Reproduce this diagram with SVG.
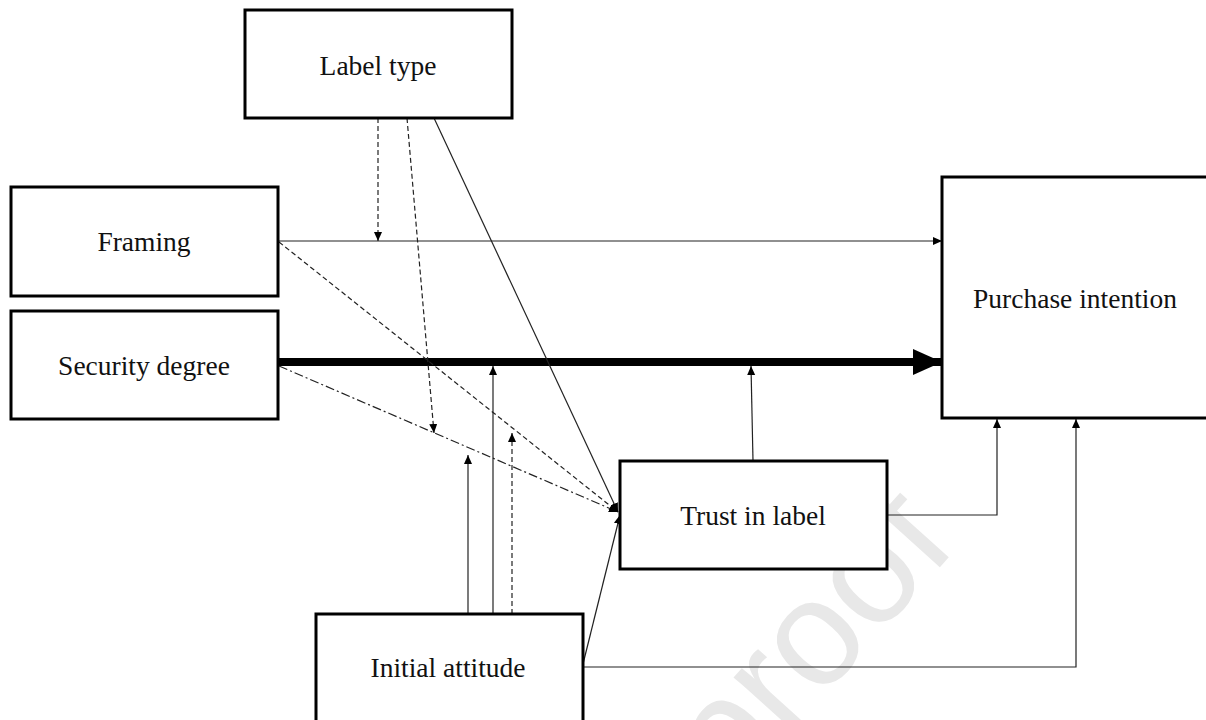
<svg xmlns="http://www.w3.org/2000/svg" width="1206" height="720" viewBox="0 0 1206 720">
<style>
.box{fill:#fff;stroke:#000;stroke-width:3}
.lbl{font-family:"Liberation Serif","Times New Roman",serif;font-size:27.5px;fill:#111;text-anchor:middle}
.c{fill:none;stroke:#222;stroke-width:1.2}
.dash{stroke-dasharray:5,3}
.dd{stroke-dasharray:9,3,2,3}
.wm{font-family:"Liberation Sans",Arial,sans-serif;font-size:150px;fill:#e8e8e8}
</style>
<defs>
<marker id="a" markerUnits="userSpaceOnUse" markerWidth="10" markerHeight="9" refX="9" refY="4" orient="auto">
<path d="M0,0 L9,4 L0,8 z" fill="#000"/>
</marker>
<marker id="big" markerUnits="userSpaceOnUse" markerWidth="30" markerHeight="28" refX="29" refY="13" orient="auto">
<path d="M0,0 L29,13 L0,26 z" fill="#000"/>
</marker>
</defs>
<rect width="1206" height="720" fill="#fff"/>
<text class="wm" transform="translate(730,800) rotate(-48)">proof</text>
<g id="connectors">
<line class="c" x1="278" y1="241" x2="942" y2="241" marker-end="url(#a)"/>
<line x1="278" y1="362" x2="942" y2="362" stroke="#000" stroke-width="8" marker-end="url(#big)"/>
<line class="c dash" x1="378" y1="118" x2="378" y2="241" marker-end="url(#a)"/>
<line class="c dash" x1="407" y1="118" x2="434" y2="433" marker-end="url(#a)"/>
<line class="c" x1="434" y1="118" x2="618" y2="512" marker-end="url(#a)"/>
<line class="c dash" x1="279" y1="242" x2="618" y2="512" marker-end="url(#a)"/>
<line class="c dd" x1="279" y1="366" x2="618" y2="512" marker-end="url(#a)"/>
<line class="c" x1="583" y1="664" x2="620" y2="515" marker-end="url(#a)"/>
<line class="c" x1="493" y1="614" x2="493" y2="366" marker-end="url(#a)"/>
<line class="c" x1="468" y1="614" x2="468" y2="455" marker-end="url(#a)"/>
<line class="c dash" x1="512" y1="614" x2="512" y2="433" marker-end="url(#a)"/>
<line class="c" x1="753" y1="461" x2="751" y2="366" marker-end="url(#a)"/>
<polyline class="c" points="887,515 997,515 997,419" marker-end="url(#a)"/>
<polyline class="c" points="583,667 1076,667 1076,419" marker-end="url(#a)"/>
</g>
<g id="label-type">
<rect class="box" x="245" y="10" width="267" height="108"/>
<text class="lbl" x="378" y="75">Label type</text>
</g>
<g id="framing">
<rect class="box" x="11" y="187" width="267" height="109"/>
<text class="lbl" x="144" y="251">Framing</text>
</g>
<g id="security-degree">
<rect class="box" x="11" y="311" width="267" height="108"/>
<text class="lbl" x="144" y="375">Security degree</text>
</g>
<g id="purchase-intention">
<rect class="box" x="942" y="177" width="270" height="241"/>
<text class="lbl" x="1075" y="308">Purchase intention</text>
</g>
<g id="trust-in-label">
<rect class="box" x="620" y="461" width="267" height="108"/>
<text class="lbl" x="753" y="525">Trust in label</text>
</g>
<g id="initial-attitude">
<rect class="box" x="316" y="614" width="267" height="120"/>
<text class="lbl" x="448" y="677">Initial attitude</text>
</g>
</svg>
